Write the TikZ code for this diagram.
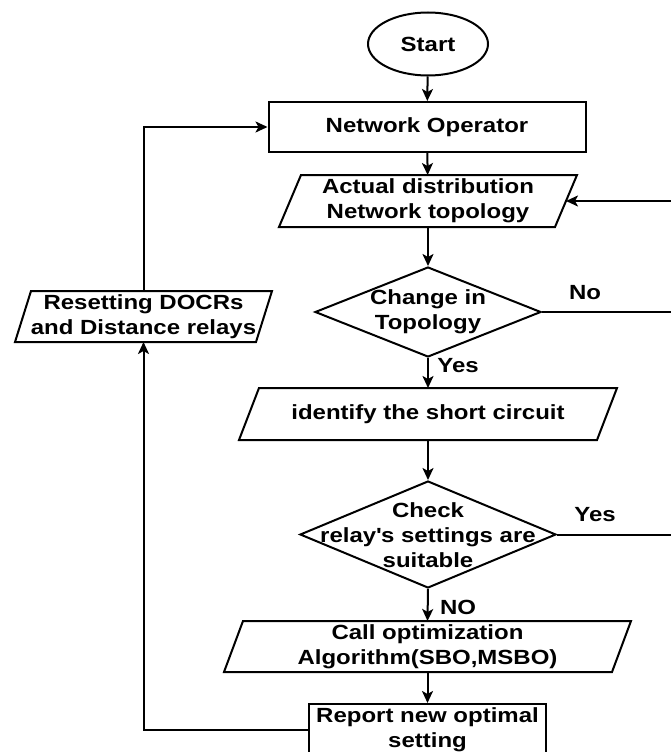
\documentclass[tikz,border=0pt]{standalone}
\usepackage{fontspec}
\setmainfont{Liberation Sans}[FakeStretch=1.17]
\usetikzlibrary{shapes.geometric,arrows.meta}
\newcommand\drawpara[2]{\draw ([xshift=#2]#1.north west) -- ([xshift=#2]#1.north east) -- ([xshift=-#2]#1.south east) -- ([xshift=-#2]#1.south west) -- cycle;}
\begin{document}
\begin{tikzpicture}[x=1pt,y=-1pt,line width=2pt,
  >={Stealth[length=12pt,width=11pt,inset=3pt]},
  every node/.style={font=\fontsize{20.5}{25}\selectfont\bfseries,inner sep=0pt,align=center},
  box/.style={draw,rectangle,minimum height=50pt},
  txt/.style={rectangle,minimum height=50pt},
  dec/.style={draw,diamond},
  lbl/.style={}]
\useasboundingbox (0,0) rectangle (671,752);
\clip (0,0) rectangle (671,752);
\fill[white] (0,0) rectangle (671,752);

\node[draw,ellipse,minimum width=120pt,minimum height=63pt] (start) at (428,44) {Start};
\node[box,minimum width=317pt] (no) at (427,127) {Network Operator};
\node[txt,minimum width=274pt] (ad) at (428,201) {Actual distribution\\Network topology};
\drawpara{ad}{11pt}
\node[dec,minimum width=226pt,minimum height=90pt] (d1) at (428,312) {};
\node (d1t) at (428,312) {Change in\\Topology};
\node[txt,minimum width=356pt] (id) at (428,414) {identify the short circuit};
\drawpara{id}{10pt}
\node[dec,minimum width=256pt,minimum height=107pt] (d2) at (428,534.5) {};
\node (d2t) at (428,535) {Check\\relay\textquotesingle s settings are\\suitable};
\node[txt,minimum width=386pt,minimum height=49pt] (co) at (427.5,646.5) {Call optimization\\Algorithm(SBO,MSBO)};
\drawpara{co}{9.5pt}
\node[box,minimum width=237pt,minimum height=52pt] (rn) at (427.5,730) {Report new optimal\\setting};
\node[txt,minimum width=239pt,minimum height=49pt] (rs) at (143.5,316.5) {Resetting DOCRs\\and Distance relays};
\drawpara{rs}{8pt}

\coordinate (redge) at (673,0);

\draw[->] (start) -- (no);
\draw[->] (no) -- (ad);
\draw[->] (ad) -- (d1);
\draw[->] (d1.south) -- (id.north);
\draw[->] (id) -- (d2.north);
\draw[->] (d2.south) -- (co.north);
\draw[->] (co) -- (rn);
\draw (d1.east) -- (d1.east -| redge);
\draw (d2.east) -- (d2.east -| redge);
\draw[->] (ad.east -| redge) -- (ad.east);
\draw[->] (rn.west) -| (rs.south);
\draw[->] (rs.north) |- (no.west);

\node[lbl] (lno) at (585,293) {No};
\node[lbl] (lyes1) at (458,366) {Yes};
\node[lbl] (lyes2) at (595,515) {Yes};
\node[lbl] (lno2) at (458,607) {NO};
\end{tikzpicture}
\end{document}
